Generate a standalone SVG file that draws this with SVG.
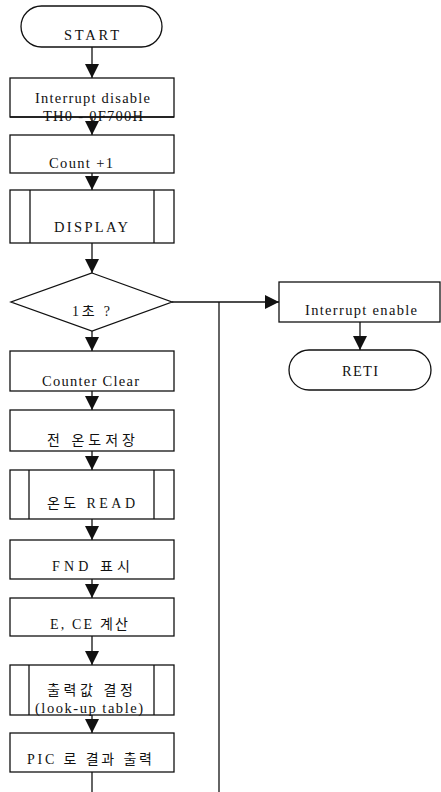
<svg xmlns="http://www.w3.org/2000/svg" width="441" height="792" viewBox="0 0 441 792">
  <style>
    .shape { fill: #ffffff; stroke: #111111; stroke-width: 1.3; }
    .sub { fill: none; stroke: #111111; stroke-width: 1.3; }
    .line { fill: none; stroke: #111111; stroke-width: 1.3; }
    text { font-family: "Liberation Serif", "Noto Sans CJK KR", serif; font-size: 14.5px; fill: #111111; text-anchor: middle; }
    .ko { font-size: 14px; }
  </style>
  <defs>
    <marker id="arrow" viewBox="0 0 14 15" refX="14" refY="7" markerWidth="14" markerHeight="15" markerUnits="userSpaceOnUse" orient="auto">
      <path d="M0,0 L14,7 L0,14 Z" fill="#111111"/>
    </marker>
  </defs>

  <rect width="441" height="792" fill="#ffffff"/>

  <!-- connectors -->
  <g id="connectors">
    <line class="line" x1="92" y1="47" x2="92" y2="78" marker-end="url(#arrow)"/>
    <line class="line" x1="92" y1="117" x2="92" y2="135" marker-end="url(#arrow)"/>
    <line class="line" x1="92" y1="173" x2="92" y2="190" marker-end="url(#arrow)"/>
    <line class="line" x1="92" y1="243" x2="92" y2="273" marker-end="url(#arrow)"/>
    <line class="line" x1="92" y1="331" x2="92" y2="351" marker-end="url(#arrow)"/>
    <line class="line" x1="92" y1="391" x2="92" y2="410" marker-end="url(#arrow)"/>
    <line class="line" x1="92" y1="451" x2="92" y2="470" marker-end="url(#arrow)"/>
    <line class="line" x1="92" y1="519" x2="92" y2="540" marker-end="url(#arrow)"/>
    <line class="line" x1="92" y1="579" x2="92" y2="598" marker-end="url(#arrow)"/>
    <line class="line" x1="92" y1="636" x2="92" y2="665" marker-end="url(#arrow)"/>
    <line class="line" x1="92" y1="715" x2="92" y2="733" marker-end="url(#arrow)"/>
    <line class="line" x1="92" y1="772" x2="92" y2="792"/>
    <!-- yes branch to interrupt enable -->
    <line class="line" x1="172" y1="302" x2="279" y2="302" marker-end="url(#arrow)"/>
    <!-- loop back from the bottom of the routine -->
    <line class="line" x1="219" y1="302" x2="219" y2="792"/>
    <line class="line" x1="360" y1="322" x2="360" y2="350" marker-end="url(#arrow)"/>
  </g>

  <g id="start">
    <rect class="shape" x="21" y="6" width="141" height="41" rx="20.5"/>
    <text x="91.5" y="40" textLength="55" lengthAdjust="spacing">START</text>
  </g>

  <g id="int-disable">
    <rect class="shape" x="10" y="78" width="164" height="39"/>
    <text x="92.5" y="103" textLength="115" lengthAdjust="spacing">Interrupt disable</text>
    <text x="93" y="121" textLength="100" lengthAdjust="spacing">TH0 - 0F700H</text>
    <line class="line" x1="10" y1="117" x2="174" y2="117"/>
  </g>

  <g id="count">
    <rect class="shape" x="10" y="135" width="164" height="38"/>
    <text x="81" y="168" textLength="64" lengthAdjust="spacing">Count +1</text>
  </g>

  <g id="display">
    <rect class="shape" x="10" y="190" width="164" height="53"/>
    <line class="sub" x1="30" y1="190" x2="30" y2="243"/>
    <line class="sub" x1="154" y1="190" x2="154" y2="243"/>
    <text x="91" y="232" textLength="74" lengthAdjust="spacing">DISPLAY</text>
  </g>

  <g id="one-second">
    <path class="shape" d="M92,273 L172,302 L92,331 L11,302 Z"/>
    <text class="ko" x="91" y="316" textLength="38" lengthAdjust="spacing">1초 ?</text>
  </g>

  <g id="int-enable">
    <rect class="shape" x="279" y="282" width="161" height="40"/>
    <text x="361" y="315" textLength="112" lengthAdjust="spacing">Interrupt enable</text>
  </g>

  <g id="reti">
    <rect class="shape" x="289" y="350" width="142" height="40" rx="20"/>
    <text x="360" y="376" textLength="36" lengthAdjust="spacing">RETI</text>
  </g>

  <g id="counter-clear">
    <rect class="shape" x="10" y="351" width="164" height="40"/>
    <text x="90.5" y="386" textLength="97" lengthAdjust="spacing">Counter Clear</text>
  </g>

  <g id="save-temp">
    <rect class="shape" x="10" y="410" width="164" height="41"/>
    <text class="ko" x="91" y="445" textLength="88" lengthAdjust="spacing">전 온도저장</text>
  </g>

  <g id="temp-read">
    <rect class="shape" x="10" y="470" width="164" height="49"/>
    <line class="sub" x1="29" y1="470" x2="29" y2="519"/>
    <line class="sub" x1="154" y1="470" x2="154" y2="519"/>
    <text class="ko" x="91" y="508" textLength="88" lengthAdjust="spacing">온도 READ</text>
  </g>

  <g id="fnd">
    <rect class="shape" x="10" y="540" width="164" height="39"/>
    <text class="ko" x="91" y="571" textLength="78" lengthAdjust="spacing">FND 표시</text>
  </g>

  <g id="e-ce">
    <rect class="shape" x="10" y="598" width="164" height="38"/>
    <text class="ko" x="89" y="629" textLength="78" lengthAdjust="spacing">E, CE 계산</text>
  </g>

  <g id="output-value">
    <rect class="shape" x="10" y="665" width="164" height="50"/>
    <line class="sub" x1="29" y1="665" x2="29" y2="715"/>
    <line class="sub" x1="154" y1="665" x2="154" y2="715"/>
    <text class="ko" x="90" y="695" textLength="86" lengthAdjust="spacing">출력값 결정</text>
    <text x="89" y="713" textLength="108" lengthAdjust="spacing">(look-up table)</text>
  </g>

  <g id="pic-output">
    <rect class="shape" x="10" y="733" width="164" height="39"/>
    <text class="ko" x="89.5" y="764" textLength="125" lengthAdjust="spacing">PIC 로 결과 출력</text>
  </g>
</svg>
